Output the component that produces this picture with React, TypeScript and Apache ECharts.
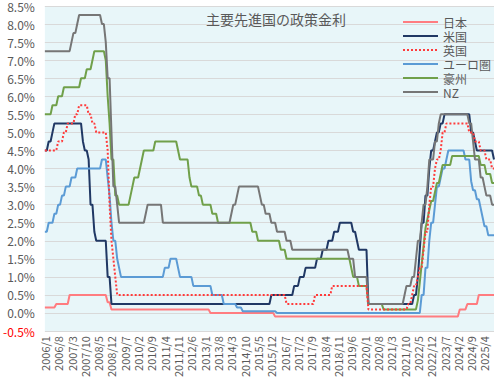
import React, { useEffect, useRef } from "react";
import * as echarts from "echarts";

const FONT = '"Noto Sans CJK JP", "Noto Sans", sans-serif';

const seriesNames = ["日本", "米国", "英国", "ユーロ圏", "豪州", "NZ"];
const seriesColors = ["#FF7C80", "#203864", "#FF3B3B", "#5B9BD5", "#70A04A", "#767676"];

// monthly categories 2006/1 .. 2025/9
const categories: string[] = [];
for (let y = 2006; y <= 2025; y++) {
  for (let m = 1; m <= 12; m++) {
    if (y === 2025 && m > 9) break;
    categories.push(`${y}/${m}`);
  }
}

// 日本
const japan = [
  0.15, 0.15, 0.15, 0.15, 0.15, 0.15, 0.25, 0.25, 0.25, 0.25, 0.25, 0.25, // 2006
  0.25, 0.5, 0.5, 0.5, 0.5, 0.5, 0.5, 0.5, 0.5, 0.5, 0.5, 0.5, // 2007
  0.5, 0.5, 0.5, 0.5, 0.5, 0.5, 0.5, 0.5, 0.5, 0.3, 0.3, 0.1, // 2008
  0.1, 0.1, 0.1, 0.1, 0.1, 0.1, 0.1, 0.1, 0.1, 0.1, 0.1, 0.1, // 2009
  0.1, 0.1, 0.1, 0.1, 0.1, 0.1, 0.1, 0.1, 0.1, 0.1, 0.1, 0.1, // 2010
  0.1, 0.1, 0.1, 0.1, 0.1, 0.1, 0.1, 0.1, 0.1, 0.1, 0.1, 0.1, // 2011
  0.1, 0.1, 0.1, 0.1, 0.1, 0.1, 0.1, 0.1, 0.1, 0.1, 0.1, 0.1, // 2012
  0.1, 0.1, 0.1, 0, 0, 0, 0, 0, 0, 0, 0, 0, // 2013
  0, 0, 0, 0, 0, 0, 0, 0, 0, 0, 0, 0, // 2014
  0, 0, 0, 0, 0, 0, 0, 0, 0, 0, 0, 0, // 2015
  0, -0.1, -0.1, -0.1, -0.1, -0.1, -0.1, -0.1, -0.1, -0.1, -0.1, -0.1, // 2016
  -0.1, -0.1, -0.1, -0.1, -0.1, -0.1, -0.1, -0.1, -0.1, -0.1, -0.1, -0.1, // 2017
  -0.1, -0.1, -0.1, -0.1, -0.1, -0.1, -0.1, -0.1, -0.1, -0.1, -0.1, -0.1, // 2018
  -0.1, -0.1, -0.1, -0.1, -0.1, -0.1, -0.1, -0.1, -0.1, -0.1, -0.1, -0.1, // 2019
  -0.1, -0.1, -0.1, -0.1, -0.1, -0.1, -0.1, -0.1, -0.1, -0.1, -0.1, -0.1, // 2020
  -0.1, -0.1, -0.1, -0.1, -0.1, -0.1, -0.1, -0.1, -0.1, -0.1, -0.1, -0.1, // 2021
  -0.1, -0.1, -0.1, -0.1, -0.1, -0.1, -0.1, -0.1, -0.1, -0.1, -0.1, -0.1, // 2022
  -0.1, -0.1, -0.1, -0.1, -0.1, -0.1, -0.1, -0.1, -0.1, -0.1, -0.1, -0.1, // 2023
  -0.1, -0.1, 0.1, 0.1, 0.1, 0.1, 0.25, 0.25, 0.25, 0.25, 0.25, 0.25, // 2024
  0.5, 0.5, 0.5, 0.5, 0.5, 0.5, 0.5, 0.5, 0.5, // 2025
];

// 米国
const usa = [
  4.5, 4.5, 4.75, 4.75, 5.0, 5.25, 5.25, 5.25, 5.25, 5.25, 5.25, 5.25, // 2006
  5.25, 5.25, 5.25, 5.25, 5.25, 5.25, 5.25, 5.25, 4.75, 4.5, 4.5, 4.25, // 2007
  3.0, 3.0, 2.25, 2.0, 2.0, 2.0, 2.0, 2.0, 2.0, 1.0, 1.0, 0.25, // 2008
  0.25, 0.25, 0.25, 0.25, 0.25, 0.25, 0.25, 0.25, 0.25, 0.25, 0.25, 0.25, // 2009
  0.25, 0.25, 0.25, 0.25, 0.25, 0.25, 0.25, 0.25, 0.25, 0.25, 0.25, 0.25, // 2010
  0.25, 0.25, 0.25, 0.25, 0.25, 0.25, 0.25, 0.25, 0.25, 0.25, 0.25, 0.25, // 2011
  0.25, 0.25, 0.25, 0.25, 0.25, 0.25, 0.25, 0.25, 0.25, 0.25, 0.25, 0.25, // 2012
  0.25, 0.25, 0.25, 0.25, 0.25, 0.25, 0.25, 0.25, 0.25, 0.25, 0.25, 0.25, // 2013
  0.25, 0.25, 0.25, 0.25, 0.25, 0.25, 0.25, 0.25, 0.25, 0.25, 0.25, 0.25, // 2014
  0.25, 0.25, 0.25, 0.25, 0.25, 0.25, 0.25, 0.25, 0.25, 0.25, 0.25, 0.5, // 2015
  0.5, 0.5, 0.5, 0.5, 0.5, 0.5, 0.5, 0.5, 0.5, 0.5, 0.5, 0.75, // 2016
  0.75, 0.75, 1.0, 1.0, 1.0, 1.25, 1.25, 1.25, 1.25, 1.25, 1.25, 1.5, // 2017
  1.5, 1.5, 1.75, 1.75, 1.75, 2.0, 2.0, 2.0, 2.25, 2.25, 2.25, 2.5, // 2018
  2.5, 2.5, 2.5, 2.5, 2.5, 2.5, 2.25, 2.25, 2.0, 1.75, 1.75, 1.75, // 2019
  1.75, 1.75, 0.25, 0.25, 0.25, 0.25, 0.25, 0.25, 0.25, 0.25, 0.25, 0.25, // 2020
  0.25, 0.25, 0.25, 0.25, 0.25, 0.25, 0.25, 0.25, 0.25, 0.25, 0.25, 0.25, // 2021
  0.25, 0.25, 0.5, 0.5, 1.0, 1.75, 2.5, 2.5, 3.25, 3.25, 4.0, 4.5, // 2022
  4.5, 4.75, 5.0, 5.0, 5.25, 5.25, 5.5, 5.5, 5.5, 5.5, 5.5, 5.5, // 2023
  5.5, 5.5, 5.5, 5.5, 5.5, 5.5, 5.5, 5.5, 5.0, 5.0, 4.75, 4.5, // 2024
  4.5, 4.5, 4.5, 4.5, 4.5, 4.5, 4.5, 4.5, 4.25, // 2025
];

// 英国
const uk = [
  4.5, 4.5, 4.5, 4.5, 4.5, 4.5, 4.5, 4.75, 4.75, 4.75, 5.0, 5.0, // 2006
  5.25, 5.25, 5.25, 5.25, 5.5, 5.5, 5.75, 5.75, 5.75, 5.75, 5.75, 5.5, // 2007
  5.5, 5.25, 5.25, 5.0, 5.0, 5.0, 5.0, 5.0, 5.0, 4.5, 3.0, 2.0, // 2008
  1.5, 1.0, 0.5, 0.5, 0.5, 0.5, 0.5, 0.5, 0.5, 0.5, 0.5, 0.5, // 2009
  0.5, 0.5, 0.5, 0.5, 0.5, 0.5, 0.5, 0.5, 0.5, 0.5, 0.5, 0.5, // 2010
  0.5, 0.5, 0.5, 0.5, 0.5, 0.5, 0.5, 0.5, 0.5, 0.5, 0.5, 0.5, // 2011
  0.5, 0.5, 0.5, 0.5, 0.5, 0.5, 0.5, 0.5, 0.5, 0.5, 0.5, 0.5, // 2012
  0.5, 0.5, 0.5, 0.5, 0.5, 0.5, 0.5, 0.5, 0.5, 0.5, 0.5, 0.5, // 2013
  0.5, 0.5, 0.5, 0.5, 0.5, 0.5, 0.5, 0.5, 0.5, 0.5, 0.5, 0.5, // 2014
  0.5, 0.5, 0.5, 0.5, 0.5, 0.5, 0.5, 0.5, 0.5, 0.5, 0.5, 0.5, // 2015
  0.5, 0.5, 0.5, 0.5, 0.5, 0.5, 0.5, 0.25, 0.25, 0.25, 0.25, 0.25, // 2016
  0.25, 0.25, 0.25, 0.25, 0.25, 0.25, 0.25, 0.25, 0.25, 0.25, 0.5, 0.5, // 2017
  0.5, 0.5, 0.5, 0.5, 0.5, 0.5, 0.5, 0.75, 0.75, 0.75, 0.75, 0.75, // 2018
  0.75, 0.75, 0.75, 0.75, 0.75, 0.75, 0.75, 0.75, 0.75, 0.75, 0.75, 0.75, // 2019
  0.75, 0.75, 0.1, 0.1, 0.1, 0.1, 0.1, 0.1, 0.1, 0.1, 0.1, 0.1, // 2020
  0.1, 0.1, 0.1, 0.1, 0.1, 0.1, 0.1, 0.1, 0.1, 0.1, 0.1, 0.25, // 2021
  0.25, 0.5, 0.75, 0.75, 1.0, 1.25, 1.25, 1.75, 2.25, 2.25, 3.0, 3.5, // 2022
  3.5, 4.0, 4.25, 4.25, 4.5, 5.0, 5.0, 5.25, 5.25, 5.25, 5.25, 5.25, // 2023
  5.25, 5.25, 5.25, 5.25, 5.25, 5.25, 5.25, 5.0, 5.0, 5.0, 4.75, 4.75, // 2024
  4.75, 4.5, 4.5, 4.5, 4.25, 4.25, 4.25, 4.0, 4.0, // 2025
];

// ユーロ圏
const euro = [
  2.25, 2.25, 2.5, 2.5, 2.5, 2.75, 2.75, 3.0, 3.0, 3.25, 3.25, 3.5, // 2006
  3.5, 3.5, 3.75, 3.75, 3.75, 4.0, 4.0, 4.0, 4.0, 4.0, 4.0, 4.0, // 2007
  4.0, 4.0, 4.0, 4.0, 4.0, 4.0, 4.25, 4.25, 4.25, 3.75, 3.25, 2.5, // 2008
  2.0, 2.0, 1.5, 1.25, 1.0, 1.0, 1.0, 1.0, 1.0, 1.0, 1.0, 1.0, // 2009
  1.0, 1.0, 1.0, 1.0, 1.0, 1.0, 1.0, 1.0, 1.0, 1.0, 1.0, 1.0, // 2010
  1.0, 1.0, 1.0, 1.25, 1.25, 1.25, 1.5, 1.5, 1.5, 1.5, 1.25, 1.0, // 2011
  1.0, 1.0, 1.0, 1.0, 1.0, 1.0, 0.75, 0.75, 0.75, 0.75, 0.75, 0.75, // 2012
  0.75, 0.75, 0.75, 0.75, 0.5, 0.5, 0.5, 0.5, 0.5, 0.5, 0.25, 0.25, // 2013
  0.25, 0.25, 0.25, 0.25, 0.25, 0.15, 0.15, 0.15, 0.05, 0.05, 0.05, 0.05, // 2014
  0.05, 0.05, 0.05, 0.05, 0.05, 0.05, 0.05, 0.05, 0.05, 0.05, 0.05, 0.05, // 2015
  0.05, 0.05, 0, 0, 0, 0, 0, 0, 0, 0, 0, 0, // 2016
  0, 0, 0, 0, 0, 0, 0, 0, 0, 0, 0, 0, // 2017
  0, 0, 0, 0, 0, 0, 0, 0, 0, 0, 0, 0, // 2018
  0, 0, 0, 0, 0, 0, 0, 0, 0, 0, 0, 0, // 2019
  0, 0, 0, 0, 0, 0, 0, 0, 0, 0, 0, 0, // 2020
  0, 0, 0, 0, 0, 0, 0, 0, 0, 0, 0, 0, // 2021
  0, 0, 0, 0, 0, 0, 0.5, 0.5, 1.25, 1.25, 2.0, 2.5, // 2022
  2.5, 3.0, 3.5, 3.5, 3.75, 4.0, 4.0, 4.25, 4.5, 4.5, 4.5, 4.5, // 2023
  4.5, 4.5, 4.5, 4.5, 4.5, 4.25, 4.25, 4.25, 3.65, 3.4, 3.4, 3.15, // 2024
  3.15, 2.9, 2.65, 2.4, 2.4, 2.15, 2.15, 2.15, 2.15, // 2025
];

// 豪州
const australia = [
  5.5, 5.5, 5.5, 5.5, 5.75, 5.75, 5.75, 6.0, 6.0, 6.0, 6.25, 6.25, // 2006
  6.25, 6.25, 6.25, 6.25, 6.25, 6.25, 6.25, 6.5, 6.5, 6.5, 6.75, 6.75, // 2007
  6.75, 7.0, 7.25, 7.25, 7.25, 7.25, 7.25, 7.25, 7.0, 6.0, 5.25, 4.25, // 2008
  4.25, 3.25, 3.25, 3.0, 3.0, 3.0, 3.0, 3.0, 3.0, 3.25, 3.5, 3.75, // 2009
  3.75, 3.75, 4.0, 4.25, 4.5, 4.5, 4.5, 4.5, 4.5, 4.5, 4.75, 4.75, // 2010
  4.75, 4.75, 4.75, 4.75, 4.75, 4.75, 4.75, 4.75, 4.75, 4.75, 4.5, 4.25, // 2011
  4.25, 4.25, 4.25, 4.25, 3.75, 3.5, 3.5, 3.5, 3.5, 3.25, 3.25, 3.0, // 2012
  3.0, 3.0, 3.0, 3.0, 2.75, 2.75, 2.75, 2.5, 2.5, 2.5, 2.5, 2.5, // 2013
  2.5, 2.5, 2.5, 2.5, 2.5, 2.5, 2.5, 2.5, 2.5, 2.5, 2.5, 2.5, // 2014
  2.5, 2.25, 2.25, 2.25, 2.0, 2.0, 2.0, 2.0, 2.0, 2.0, 2.0, 2.0, // 2015
  2.0, 2.0, 2.0, 2.0, 1.75, 1.75, 1.75, 1.5, 1.5, 1.5, 1.5, 1.5, // 2016
  1.5, 1.5, 1.5, 1.5, 1.5, 1.5, 1.5, 1.5, 1.5, 1.5, 1.5, 1.5, // 2017
  1.5, 1.5, 1.5, 1.5, 1.5, 1.5, 1.5, 1.5, 1.5, 1.5, 1.5, 1.5, // 2018
  1.5, 1.5, 1.5, 1.5, 1.5, 1.25, 1.0, 1.0, 1.0, 0.75, 0.75, 0.75, // 2019
  0.75, 0.75, 0.25, 0.25, 0.25, 0.25, 0.25, 0.25, 0.25, 0.25, 0.1, 0.1, // 2020
  0.1, 0.1, 0.1, 0.1, 0.1, 0.1, 0.1, 0.1, 0.1, 0.1, 0.1, 0.1, // 2021
  0.1, 0.1, 0.1, 0.1, 0.35, 0.85, 1.35, 1.85, 2.35, 2.6, 2.85, 3.1, // 2022
  3.1, 3.35, 3.6, 3.6, 3.85, 4.1, 4.1, 4.1, 4.1, 4.1, 4.35, 4.35, // 2023
  4.35, 4.35, 4.35, 4.35, 4.35, 4.35, 4.35, 4.35, 4.35, 4.35, 4.35, 4.35, // 2024
  4.35, 4.1, 4.1, 4.1, 3.85, 3.85, 3.85, 3.6, 3.6, // 2025
];

// NZ
const nz = [
  7.25, 7.25, 7.25, 7.25, 7.25, 7.25, 7.25, 7.25, 7.25, 7.25, 7.25, 7.25, // 2006
  7.25, 7.25, 7.5, 7.75, 7.75, 8.0, 8.25, 8.25, 8.25, 8.25, 8.25, 8.25, // 2007
  8.25, 8.25, 8.25, 8.25, 8.25, 8.25, 8.0, 8.0, 7.5, 6.5, 6.5, 5.0, // 2008
  3.5, 3.5, 3.0, 2.5, 2.5, 2.5, 2.5, 2.5, 2.5, 2.5, 2.5, 2.5, // 2009
  2.5, 2.5, 2.5, 2.5, 2.5, 2.75, 3.0, 3.0, 3.0, 3.0, 3.0, 3.0, // 2010
  3.0, 3.0, 2.5, 2.5, 2.5, 2.5, 2.5, 2.5, 2.5, 2.5, 2.5, 2.5, // 2011
  2.5, 2.5, 2.5, 2.5, 2.5, 2.5, 2.5, 2.5, 2.5, 2.5, 2.5, 2.5, // 2012
  2.5, 2.5, 2.5, 2.5, 2.5, 2.5, 2.5, 2.5, 2.5, 2.5, 2.5, 2.5, // 2013
  2.5, 2.5, 2.75, 3.0, 3.0, 3.25, 3.5, 3.5, 3.5, 3.5, 3.5, 3.5, // 2014
  3.5, 3.5, 3.5, 3.5, 3.5, 3.25, 3.0, 3.0, 2.75, 2.75, 2.75, 2.5, // 2015
  2.5, 2.5, 2.25, 2.25, 2.25, 2.25, 2.25, 2.0, 2.0, 2.0, 1.75, 1.75, // 2016
  1.75, 1.75, 1.75, 1.75, 1.75, 1.75, 1.75, 1.75, 1.75, 1.75, 1.75, 1.75, // 2017
  1.75, 1.75, 1.75, 1.75, 1.75, 1.75, 1.75, 1.75, 1.75, 1.75, 1.75, 1.75, // 2018
  1.75, 1.75, 1.75, 1.75, 1.5, 1.5, 1.5, 1.0, 1.0, 1.0, 1.0, 1.0, // 2019
  1.0, 1.0, 0.25, 0.25, 0.25, 0.25, 0.25, 0.25, 0.25, 0.25, 0.25, 0.25, // 2020
  0.25, 0.25, 0.25, 0.25, 0.25, 0.25, 0.25, 0.25, 0.25, 0.5, 0.75, 0.75, // 2021
  0.75, 1.0, 1.0, 1.5, 2.0, 2.0, 2.5, 3.0, 3.0, 3.5, 4.25, 4.25, // 2022
  4.25, 4.75, 4.75, 5.25, 5.5, 5.5, 5.5, 5.5, 5.5, 5.5, 5.5, 5.5, // 2023
  5.5, 5.5, 5.5, 5.5, 5.5, 5.5, 5.5, 5.25, 5.25, 4.75, 4.25, 4.25, // 2024
  4.25, 3.75, 3.75, 3.5, 3.25, 3.25, 3.25, 3.0, 3.0, // 2025
];

const seriesData = [japan, usa, uk, euro, australia, nz];

export default function App() {
  const ref = useRef<HTMLDivElement>(null);
  useEffect(() => {
    document.body.style.margin = "0";
    if (!ref.current) return;
    const chart = echarts.init(ref.current, undefined, { renderer: "svg" });
    chart.setOption({
      animation: false,
      backgroundColor: "#ffffff",
      textStyle: { fontFamily: FONT },
      title: {
        text: "主要先進国の政策金利",
        left: 201,
        top: 7,
        textStyle: { fontSize: 14, fontWeight: "normal", color: "#595959", fontFamily: FONT },
      },
      legend: {
        orient: "vertical",
        left: 397,
        top: 11,
        itemWidth: 35,
        itemHeight: 12,
        itemGap: 2,
        data: seriesNames,
        itemStyle: { opacity: 0 },
        textStyle: { fontSize: 12, color: "#595959", lineHeight: 12, fontFamily: FONT },
      },
      grid: {
        left: 42,
        right: 6,
        top: 5,
        bottom: 47,
        show: true,
        backgroundColor: "#E8F6F9",
        borderWidth: 0,
      },
      xAxis: {
        type: "category",
        data: categories,
        boundaryGap: false,
        axisLine: { show: false },
        axisTick: { show: false },
        splitLine: { show: false },
        axisLabel: {
          interval: 6,
          rotate: 90,
          fontSize: 11,
          color: "#595959",
          margin: 5,
          fontFamily: FONT,
        },
      },
      yAxis: {
        type: "value",
        min: -0.5,
        max: 8.5,
        interval: 0.5,
        axisLine: { show: false },
        axisTick: { show: false },
        splitLine: { lineStyle: { color: "#D9D9D9", width: 1 } },
        axisLabel: {
          margin: 10,
          fontSize: 12,
          color: "#595959",
          fontFamily: FONT,
          formatter: (v: number) =>
            v < 0 ? `{neg|${v.toFixed(1)}%}` : `${v.toFixed(1)}%`,
          rich: {
            neg: { color: "#FF0000", fontSize: 12, fontFamily: FONT },
          },
        },
      },
      series: seriesNames.map((name, i) => ({
        name,
        type: "line",
        data: seriesData[i],
        symbol: "none",
        showSymbol: false,
        color: seriesColors[i],
        lineStyle: {
          color: seriesColors[i],
          width: 2,
          type: i === 2 ? [2, 2] : "solid",
        },
        z: i === 2 ? 3 : 2,
      })),
    });
    return () => chart.dispose();
  }, []);
  return <div ref={ref} style={{ width: 500, height: 380 }} />;
}
